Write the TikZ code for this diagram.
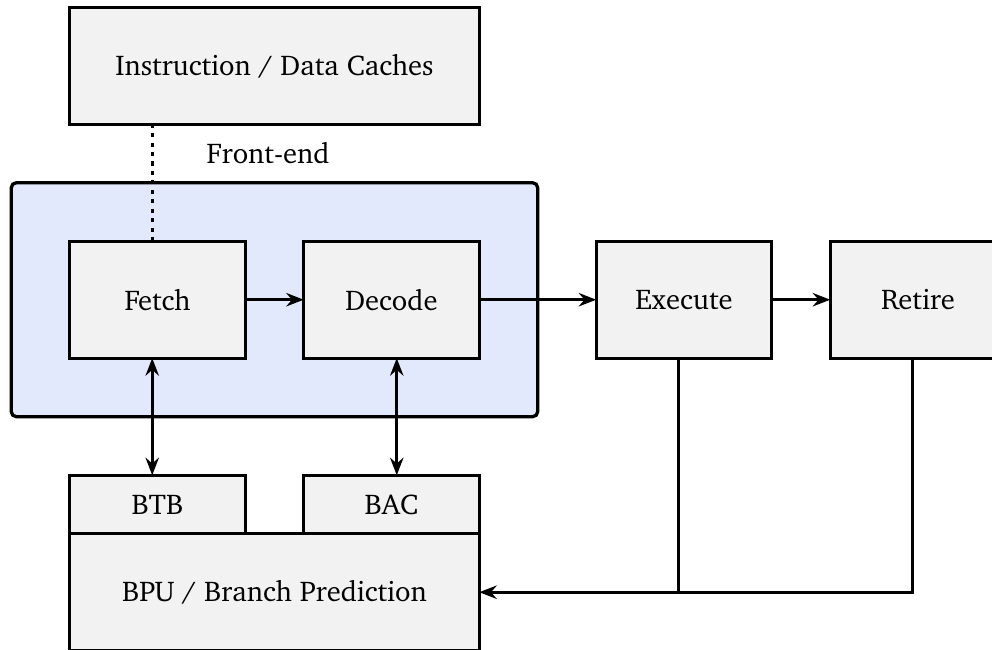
\documentclass[tikz,border=0pt]{standalone}
\usepackage[T1]{fontenc}
\usepackage{charter}
\usetikzlibrary{positioning,fit,backgrounds,arrows.meta}
\definecolor{boxgray}{RGB}{242,242,242}
\definecolor{feblue}{RGB}{227,233,252}

\begin{document}
\begin{tikzpicture}
  [every node/.style={font=\fontsize{13.9}{16}\selectfont},
   every path/.style={line width=1.6pt},
   unit/.style={draw, line width=1.6pt, fill=boxgray, minimum width=3cm, minimum height=2cm, inner sep=0pt, outer sep=0pt},
   stage/.style={draw, line width=1.6pt, fill=feblue, rounded corners=2.5pt, inner sep=1cm},
   tip/.tip={Stealth[length=8.5pt, width=6.5pt, inset=2.8pt]},
   flow/.style={-tip},
   both/.style={tip-tip},
   bus/.style={dash pattern=on 2pt off 2.6pt}]
  \useasboundingbox (-2.692,-5.971) rectangle (14.265,5.123);

  \node[unit] (fetch) at (0,0) {Fetch};
  \node[unit, right=1cm of fetch] (decode) {Decode};
  \node[unit, right=2cm of decode] (execute) {Execute};
  \node[unit, right=1cm of execute] (retire) {Retire};

  \node[unit, minimum width=7cm, above=2cm of fetch.north west, anchor=south west] (cache) {Instruction / Data Caches};

  \node[unit, minimum height=1cm, below=2cm of fetch] (btb) {BTB};
  \node[unit, minimum height=1cm, below=2cm of decode] (bac) {BAC};
  \node[unit, minimum width=7cm, below=0cm of btb.south west, anchor=north west] (bpu) {BPU / Branch Prediction};

  \begin{scope}[on background layer]
    \node[stage, fit=(fetch)(decode)] (frontend) {};
  \end{scope}
  \node[above=0.15cm of frontend.north, xshift=-0.11cm] (felabel) {Front-end};

  \draw[bus] ([xshift=-0.09cm]fetch.north) -- ([xshift=-0.09cm]fetch.north |- cache.south);

  \foreach \from/\to in {fetch/decode, decode/execute, execute/retire}
      \draw[flow] (\from) -- (\to);

  \draw[both] ([xshift=-0.09cm]fetch.south) -- ([xshift=-0.09cm]btb.north);
  \draw[both] ([xshift=0.09cm]decode.south) -- ([xshift=0.09cm]bac.north);

  \coordinate (exedrop) at ([xshift=-0.09cm]execute.south);
  \coordinate (retdrop) at ([xshift=-0.09cm]retire.south);
  \draw (exedrop) -- (exedrop |- bpu.east);
  \draw[flow] (retdrop) |- (bpu.east);
\end{tikzpicture}
\end{document}
